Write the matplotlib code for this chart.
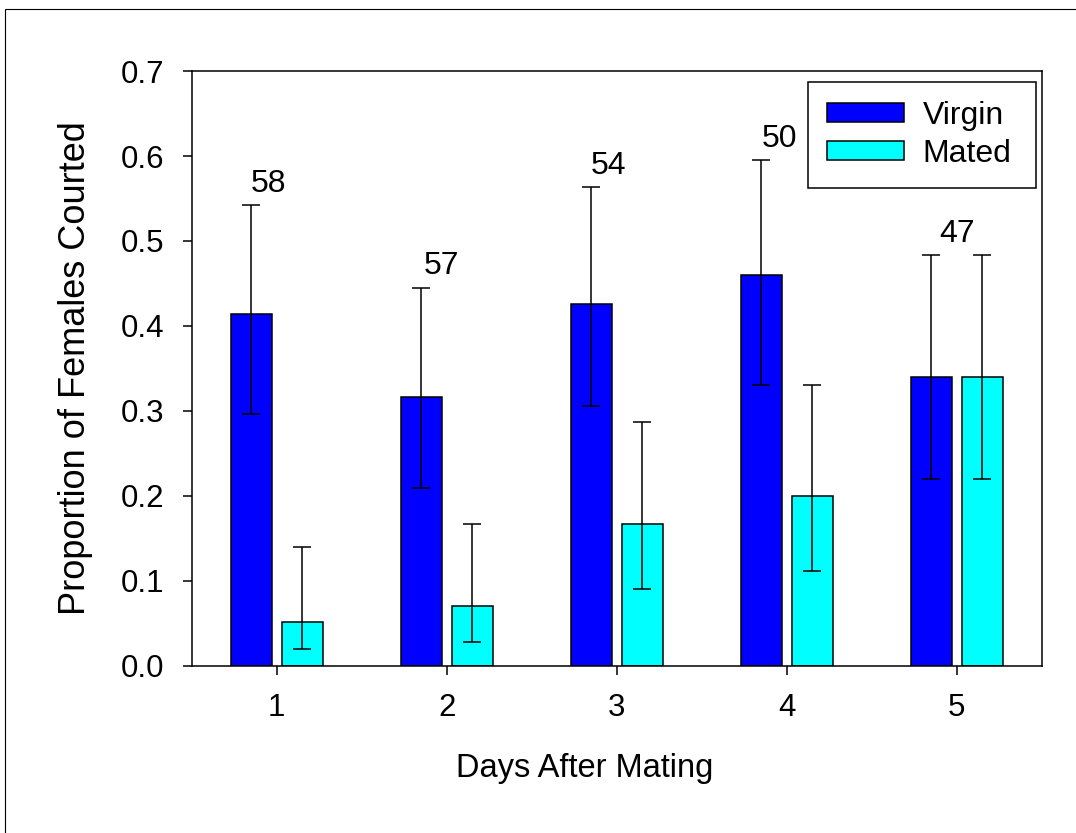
import numpy as np
import matplotlib
matplotlib.use("Agg")
from matplotlib import pyplot as plt
from matplotlib.patches import Rectangle

plt.rcParams['font.family'] = ['Liberation Sans', 'DejaVu Sans']

# data
days = [1, 2, 3, 4, 5]
virgin = [0.414, 0.316, 0.426, 0.460, 0.340]
mated = [0.052, 0.070, 0.167, 0.200, 0.340]
virgin_lo = [0.296, 0.209, 0.306, 0.330, 0.220]
virgin_hi = [0.542, 0.445, 0.563, 0.595, 0.483]
mated_lo = [0.020, 0.028, 0.090, 0.112, 0.220]
mated_hi = [0.140, 0.167, 0.287, 0.330, 0.483]
sample_sizes = ["58", "57", "54", "50", "47"]

# small horizontal nudges of the n labels (layout only)
label_dx = [-0.047, -0.028, -0.047, -0.04, 0.0]

fig = plt.figure(figsize=(10.76, 8.33), dpi=100)
ax = fig.add_axes([0.1782, 0.2008, 0.78996, 0.7139])

x = np.array(days, dtype=float)
w = 0.24
off = 0.15

v = np.array(virgin)
m = np.array(mated)
v_err = [v - np.array(virgin_lo), np.array(virgin_hi) - v]
m_err = [m - np.array(mated_lo), np.array(mated_hi) - m]

ax.bar(x - off, v, width=w, color='#0000ff', edgecolor='black', linewidth=1.1, label='Virgin', zorder=2)
ax.bar(x + off, m, width=w, color='#00ffff', edgecolor='black', linewidth=1.1, label='Mated', zorder=2)
ax.errorbar(x - off, v, yerr=v_err, fmt='none', ecolor='black', elinewidth=1.1, capsize=6.4, capthick=1.1, zorder=3)
ax.errorbar(x + off, m, yerr=m_err, fmt='none', ecolor='black', elinewidth=1.1, capsize=6.4, capthick=1.1, zorder=3)

for i, n in enumerate(sample_sizes):
    ax.text(x[i] + label_dx[i], virgin_hi[i] + 0.025, n, fontsize=23, ha='center', va='center')

ax.set_xlim(0.5, 5.5)
ax.set_ylim(0.0, 0.7)
ax.set_xticks(days)
ax.set_yticks(np.arange(0, 0.71, 0.1))
ax.set_yticklabels([f"{t:.1f}" for t in np.arange(0, 0.71, 0.1)])
ax.tick_params(axis='both', direction='out', length=6.5, width=1.1, labelsize=22.5)
ax.tick_params(axis='x', pad=13)
ax.tick_params(axis='y', pad=13)
for s in ax.spines.values():
    s.set_linewidth(1.1)

ax.set_xlabel("Days After Mating", fontsize=23.5)
ax.xaxis.set_label_coords(0.4624, -0.146)
ax.set_ylabel("Proportion of Females Courted", fontsize=26)
ax.yaxis.set_label_coords(-0.116, 0.5)

leg = ax.legend(loc='upper left', bbox_to_anchor=(0.7247, 0.70, 0.2686, 0.282), mode='expand',
                borderaxespad=0, fontsize=23, handlelength=2.4, handleheight=0.55, handletextpad=0.6,
                labelspacing=0.25, borderpad=0.6, fancybox=False, framealpha=1)
leg.get_frame().set_edgecolor('black')
leg.get_frame().set_linewidth(1.1)

# outer frame of the original export (only top and left edges show)
fig.add_artist(Rectangle((5 / 1076, -0.2), 2.0, 1.2 - 9 / 833, transform=fig.transFigure,
                         fill=False, edgecolor='black', linewidth=0.8))

fig.savefig("out.png", dpi=100)
